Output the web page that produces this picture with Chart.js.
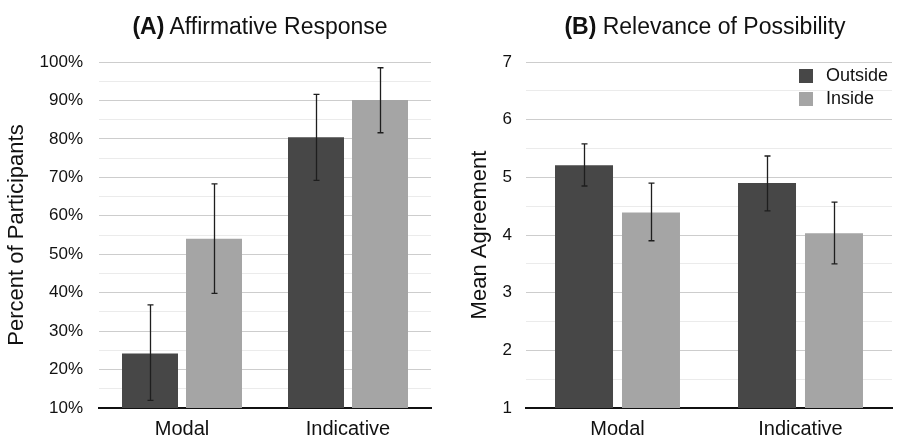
<!DOCTYPE html>
<html>
<head>
<meta charset="utf-8">
<title>Affirmative Response / Relevance of Possibility</title>
<script src="https://cdn.jsdelivr.net/npm/chart.js@4.4.1/dist/chart.umd.min.js"></script>
<style>
  body { margin: 0; background: #fff; font-family: 'Liberation Sans', Arial, sans-serif; }
  #wrap { position: relative; width: 898px; height: 439px; overflow: hidden; }
  .panel { position: absolute; top: 0; height: 439px; }
  .title { position: absolute; top: 13px; font-size: 23px; line-height: 27px; color: #111; white-space: nowrap; transform: translateX(-50%); }
  .legend { position: absolute; left: 799px; top: 64px; font-size: 18px; line-height: 23px; color: #111; }
  .legend div { display: flex; align-items: center; }
  .legend span.sw { display: inline-block; width: 14px; height: 14px; margin-right: 13px; }
</style>
</head>
<body>
<div id="wrap">
  <div class="panel" style="left:0;width:450px"><canvas id="chartA"></canvas></div>
  <div class="panel" style="left:450px;width:448px"><canvas id="chartB"></canvas></div>
  <div class="title" style="left:260px"><b>(A)</b> Affirmative Response</div>
  <div class="title" style="left:705px"><b>(B)</b> Relevance of Possibility</div>
  <div class="legend" id="legendB"></div>
</div>

<script>
// categories + series names
const categories = ['Modal', 'Indicative'];
const seriesNames = ['Outside', 'Inside'];
const seriesColors = ['#474747', '#a5a5a5'];

// panel A - percent of participants answering yes
const affirmOutside = [24.2, 80.4];
const affirmOutsideLow = [12.0, 69.2];
const affirmOutsideHigh = [36.8, 91.6];
const affirmInside = [54.0, 90.1];
const affirmInsideLow = [39.8, 81.6];
const affirmInsideHigh = [68.3, 98.5];

// panel B - mean agreement
const relevOutside = [5.21, 4.90];
const relevOutsideLow = [4.85, 4.42];
const relevOutsideHigh = [5.58, 5.37];
const relevInside = [4.39, 4.03];
const relevInsideLow = [3.90, 3.50];
const relevInsideHigh = [4.90, 4.57];

// tick labels
const percentTicks = [10, 20, 30, 40, 50, 60, 70, 80, 90, 100];
const agreementTicks = [1, 2, 3, 4, 5, 6, 7];

const FONT = "'Liberation Sans', Arial, sans-serif";

// draws the error bars on top of each bar
const errorBarPlugin = {
  id: 'errorBars',
  afterDatasetsDraw(chart) {
    const ctx = chart.ctx;
    const yScale = chart.scales.y;
    ctx.save();
    ctx.strokeStyle = '#1e1e1e';
    ctx.lineWidth = 1.3;
    chart.data.datasets.forEach((ds, di) => {
      const meta = chart.getDatasetMeta(di);
      meta.data.forEach((bar, i) => {
        const x = Math.round(bar.x) + 0.5;
        const yLow = yScale.getPixelForValue(ds.errLow[i]);
        const yHigh = yScale.getPixelForValue(ds.errHigh[i]);
        ctx.beginPath();
        ctx.moveTo(x, yLow);
        ctx.lineTo(x, yHigh);
        ctx.moveTo(x - 3, yLow);
        ctx.lineTo(x + 3, yLow);
        ctx.moveTo(x - 3, yHigh);
        ctx.lineTo(x + 3, yHigh);
        ctx.stroke();
      });
    });
    ctx.restore();
  }
};

function makeDatasets(values, lows, highs, catPct, barPct) {
  return values.map((vals, i) => ({
    label: seriesNames[i],
    data: vals,
    errLow: lows[i],
    errHigh: highs[i],
    backgroundColor: seriesColors[i],
    borderWidth: 0,
    categoryPercentage: catPct,
    barPercentage: barPct
  }));
}

// builds one panel, most of the layout is pinned with afterFit
function buildPanel(canvasId, cfg) {
  const labelSet = new Set(cfg.tickLabels);
  return new Chart(document.getElementById(canvasId), {
    type: 'bar',
    data: {
      labels: categories,
      datasets: makeDatasets(cfg.values, cfg.lows, cfg.highs, cfg.catPct, cfg.barPct)
    },
    options: {
      responsive: true,
      maintainAspectRatio: false,
      animation: false,
      layout: { padding: { top: 62, right: cfg.padRight, left: 0, bottom: 0 } },
      plugins: {
        legend: { display: false },
        tooltip: { enabled: false }
      },
      scales: {
        x: {
          grid: { display: false, drawTicks: false },
          border: { display: true, color: '#111', width: 2 },
          ticks: { color: '#111', padding: 9, font: { family: FONT, size: 20 } },
          afterFit: (s) => { s.height = 31; }
        },
        y: {
          min: cfg.min,
          max: cfg.max,
          border: { display: false },
          grid: {
            drawTicks: false,
            lineWidth: 1,
            color: (c) => labelSet.has(c.tick && c.tick.value) ? '#cdcdcd' : '#ebebeb'
          },
          ticks: {
            stepSize: cfg.step,
            autoSkip: false,
            padding: cfg.tickPad,
            color: '#111',
            font: { family: FONT, size: 17 },
            callback: (v) => labelSet.has(v) ? cfg.fmt(v) : ''
          },
          title: {
            display: true,
            text: cfg.yTitle,
            color: '#111',
            font: { family: FONT, size: 22 },
            padding: { top: cfg.titlePad, bottom: 0 }
          },
          afterFit: (s) => { s.width = cfg.axisWidth; }
        }
      }
    },
    plugins: [errorBarPlugin]
  });
}

buildPanel('chartA', {
  values: [affirmOutside, affirmInside],
  lows: [affirmOutsideLow, affirmInsideLow],
  highs: [affirmOutsideHigh, affirmInsideHigh],
  tickLabels: percentTicks,
  fmt: (v) => v + '%',
  min: 10, max: 100, step: 5,
  yTitle: 'Percent of Participants',
  axisWidth: 99, padRight: 19, tickPad: 16, titlePad: 4,
  catPct: 0.771, barPct: 0.875
});

buildPanel('chartB', {
  values: [relevOutside, relevInside],
  lows: [relevOutsideLow, relevInsideLow],
  highs: [relevOutsideHigh, relevInsideHigh],
  tickLabels: agreementTicks,
  fmt: (v) => String(v),
  min: 1, max: 7, step: 0.5,
  yTitle: 'Mean Agreement',
  axisWidth: 76, padRight: 6, tickPad: 14, titlePad: 17,
  catPct: 0.732, barPct: 0.866
});

// legend for panel B
document.getElementById('legendB').innerHTML = seriesNames.map((name, i) =>
  `<div><span class="sw" style="background:${seriesColors[i]}"></span>${name}</div>`
).join('');
</script>
</body>
</html>
